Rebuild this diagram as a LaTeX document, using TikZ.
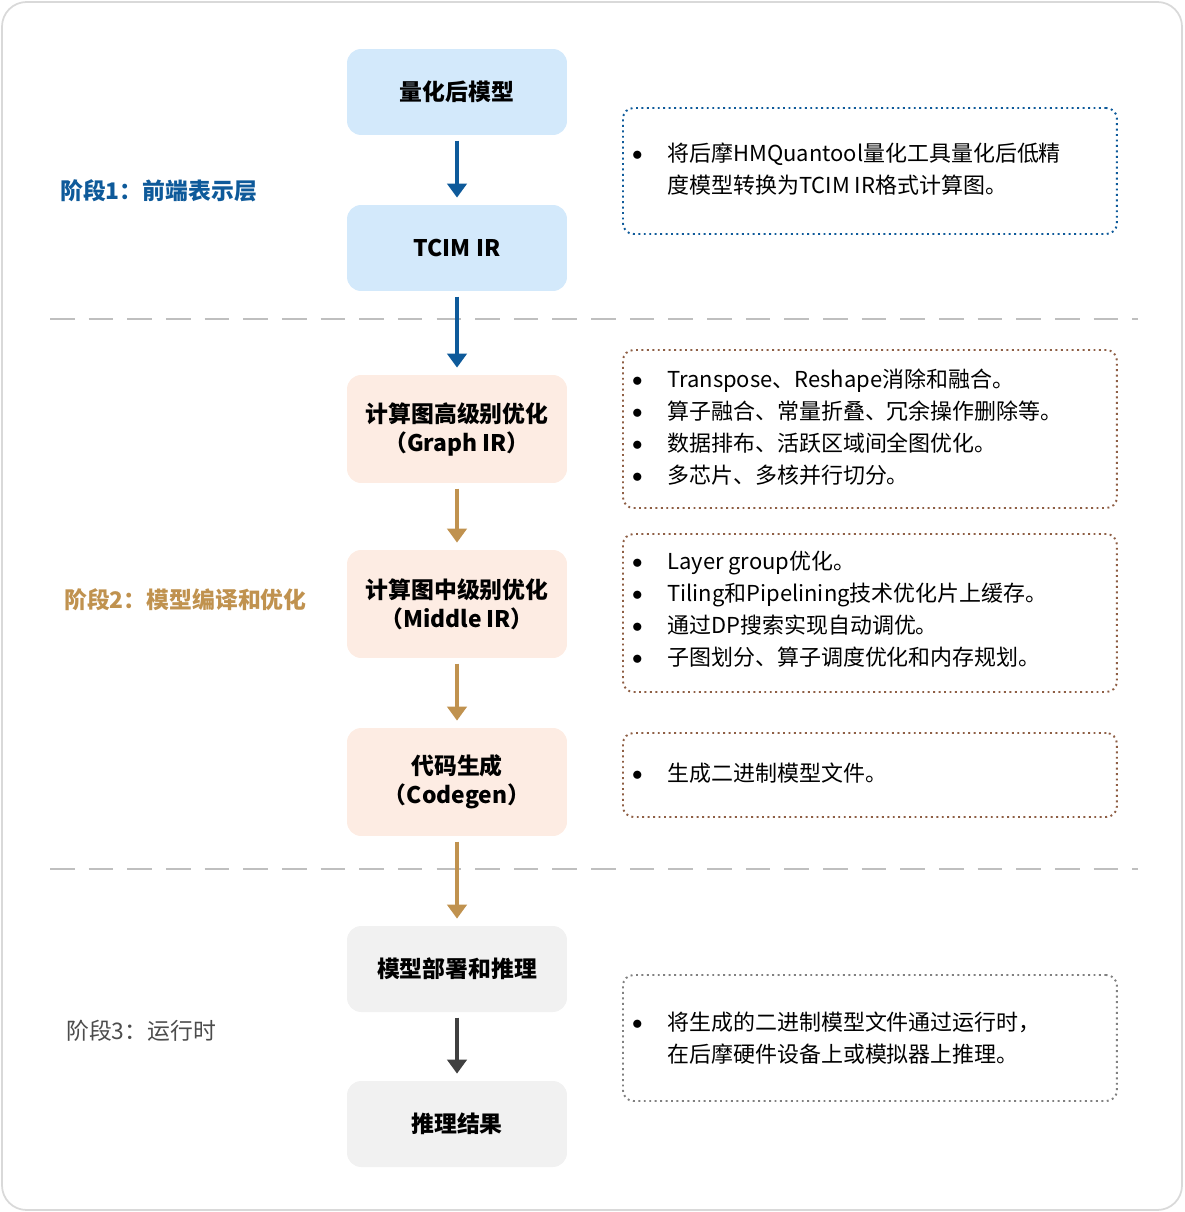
\documentclass[tikz,border=0pt]{standalone}
\usepackage{fontspec}
\setmainfont{Noto Sans CJK SC}
\usetikzlibrary{arrows.meta,positioning}
\definecolor{bluefill}{HTML}{D3E9FB}
\definecolor{bluedark}{HTML}{0E5A9A}
\definecolor{orfill}{HTML}{FDECE3}
\definecolor{tan}{HTML}{C0924F}
\definecolor{brownline}{HTML}{8E5E44}
\definecolor{grayfill}{HTML}{F1F1F1}
\definecolor{graydark}{HTML}{404040}
\tikzset{
  stepbox/.style={rounded corners=8pt, minimum width=4.4cm, align=center, font=\fontsize{13}{16.5}\selectfont\bfseries},
  note/.style={rounded corners=6pt, dotted, line width=1.1pt, minimum width=9.88cm, anchor=west},
  flow/.style={line width=2.6pt, -{Triangle[length=8pt,width=11pt]}, shorten >=4pt, shorten <=3pt},
  stage/.style={anchor=west, font=\fontsize{13}{16}\selectfont\bfseries}
}
\newcommand{\blist}[1]{\fontsize{12.5}{18.2}\selectfont\begin{tabular}{@{}l@{\hspace{14pt}}l@{}}#1\end{tabular}}
\newcommand{\bul}{\raisebox{0.5pt}{$\bullet$}}
\begin{document}
\begin{tikzpicture}[x=0.02cm,y=-0.02cm]
  \useasboundingbox (0,0) rectangle (1184,1212);
  \draw[rounded corners=14pt, draw=black!15, line width=1pt] (2,2) rectangle (1182,1210);
  % dashed separators
  \draw[black!25, line width=1.2pt, dash pattern=on 14pt off 8pt] (50,319) -- (1138,319);
  \draw[black!25, line width=1.2pt, dash pattern=on 14pt off 8pt] (50,869) -- (1138,869);
  % stage labels
  \node[stage, text=bluedark] (s1) at (54,191) {阶段1：前端表示层};
  \node[stage, text=tan] (s2) at (58,600) {阶段2：模型编译和优化};
  \node[stage, text=black!70, font=\fontsize{13}{16}\selectfont] (s3) at (60,1031) {阶段3：运行时};
  % flow boxes
  \node[stepbox, fill=bluefill, minimum height=1.72cm] (quant) at (457,92) {量化后模型};
  \node[stepbox, fill=bluefill, minimum height=1.72cm] (tcim) at (457,248) {TCIM IR};
  \node[stepbox, fill=orfill, minimum height=2.16cm] (graph) at (457,429) {计算图高级别优化\\（Graph IR）};
  \node[stepbox, fill=orfill, minimum height=2.16cm] (middle) at (457,604) {计算图中级别优化\\（Middle IR）};
  \node[stepbox, fill=orfill, minimum height=2.16cm] (codegen) at (457,782) {代码生成\\（Codegen）};
  \node[stepbox, fill=grayfill, minimum height=1.72cm] (deploy) at (457,969) {模型部署和推理};
  \node[stepbox, fill=grayfill, minimum height=1.72cm] (result) at (457,1124) {推理结果};
  % arrows
  \draw[flow, bluedark] (quant) -- (tcim);
  \draw[flow, bluedark] (tcim) -- (graph);
  \draw[flow, tan] (graph) -- (middle);
  \draw[flow, tan] (middle) -- (codegen);
  \draw[flow, tan] (codegen) -- (deploy);
  \draw[flow, graydark] (deploy) -- (result);
  % notes
  \node[note, draw=bluedark, minimum height=2.52cm] (n1) at (622,171) {};
  \node[anchor=west] (t1) at (626,171) {\blist{\bul&将后摩HMQuantool量化工具量化后低精\\&度模型转换为TCIM IR格式计算图。}};
  \node[note, draw=brownline, minimum height=3.16cm] (n2) at (622,429) {};
  \node[anchor=west] (t2) at (626,429) {\blist{\bul&Transpose、Reshape消除和融合。\\\bul&算子融合、常量折叠、冗余操作删除等。\\\bul&数据排布、活跃区域间全图优化。\\\bul&多芯片、多核并行切分。}};
  \node[note, draw=brownline, minimum height=3.16cm] (n3) at (622,613) {};
  \node[anchor=west] (t3) at (626,611) {\blist{\bul&Layer group优化。\\\bul&Tiling和Pipelining技术优化片上缓存。\\\bul&通过DP搜索实现自动调优。\\\bul&子图划分、算子调度优化和内存规划。}};
  \node[note, draw=brownline, minimum height=1.68cm] (n4) at (622,775) {};
  \node[anchor=west] (t4) at (626,775) {\blist{\bul&生成二进制模型文件。}};
  \node[note, draw=black!50, minimum height=2.52cm] (n5) at (622,1038) {};
  \node[anchor=west] (t5) at (626,1040) {\blist{\bul&将生成的二进制模型文件通过运行时，\\&在后摩硬件设备上或模拟器上推理。}};
\end{tikzpicture}
\end{document}
